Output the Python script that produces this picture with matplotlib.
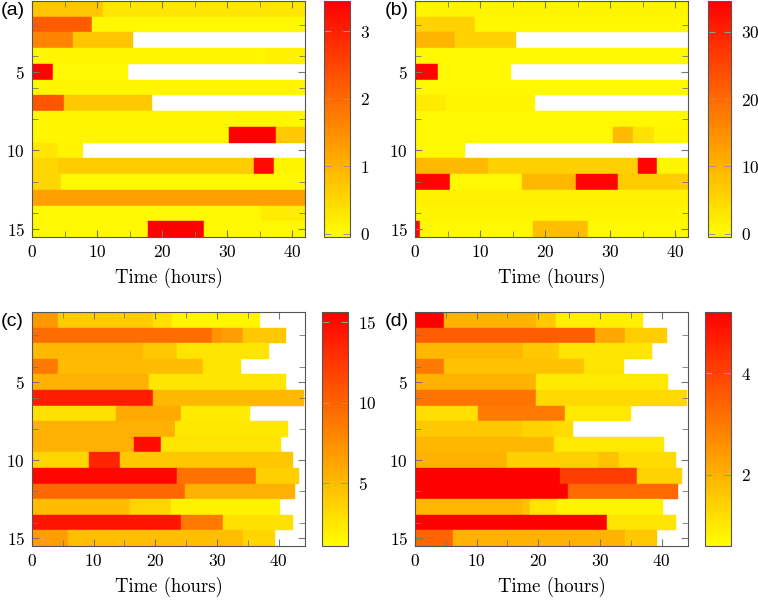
import matplotlib
matplotlib.use("Agg")
import matplotlib.pyplot as plt
from matplotlib.colors import Normalize
from matplotlib.cm import ScalarMappable
from matplotlib.ticker import MultipleLocator

plt.rcParams['font.family'] = 'serif'
plt.rcParams['font.serif'] = ['cmr10', 'DejaVu Serif']
plt.rcParams['mathtext.fontset'] = 'cm'
plt.rcParams['axes.formatter.use_mathtext'] = True

# (a) breakpoints (hours) and values per row, rows 1..15
a_edges = [[0, 10.9, 42], [0, 9.3, 42], [0, 6.3, 15.6], [0, 36, 42], [0, 3.2, 14.7],
           [0, 42], [0, 4.9, 18.4], [0, 42], [0, 30.3, 37.6, 42], [0, 4, 7.8],
           [0, 4, 34.2, 37.3, 42], [0, 4.4, 42], [0, 42], [0, 35.3, 42], [0, 17.9, 26.5, 42]]
a_vals = [[0.75, 0.3], [2.2, 0.05], [1.65, 0.75], [0.08, 0.15], [3.4, 0.05],
          [0.08], [2.3, 0.7], [0.08], [0.08, 3.45, 0.7], [0.3, 0.1],
          [0.5, 0.65, 3.3, 0.1], [0.5, 0.05], [1.25], [0.05, 0.2], [0.05, 3.45, 0.05]]

# (b)
b_edges = [[0, 42], [0, 9.3, 42], [0, 6.2, 15.6], [0, 42], [0, 3.5, 14.7],
           [0, 42], [0, 4.8, 18.4], [0, 42], [0, 30.5, 33.6, 36.8, 42], [0, 7.7],
           [0, 11.2, 34.3, 37.2, 42], [0, 5.4, 16.4, 24.8, 31.3, 42], [0, 42], [0, 42],
           [0, 0.8, 18.1, 26.6, 42]]
b_vals = [[1.0], [5.8, 0.5], [9.7, 5.8], [0.5], [34.0, 0.5],
          [0.5], [2.5, 0.8], [0.5], [0.5, 9.0, 3.5, 0.8], [0.5],
          [9.0, 6.0, 34.0, 0.8], [34.0, 0.5, 9.5, 34.0, 6.5], [1.5], [1.0],
          [34.0, 0.5, 8.5, 0.5]]

# (c)
c_edges = [[0, 4.2, 19.7, 22.7, 37.0], [0, 29.2, 30.8, 34.3, 41.2], [0, 18, 23.5, 38.5],
           [0, 4.3, 27.7, 33.9], [0, 19.0, 41.2], [0, 19.6, 44.2], [0, 13.6, 24.1, 35.3],
           [0, 23.2, 41.6], [0, 16.6, 21.0, 40.4], [0, 9.2, 14.2, 42.3],
           [0, 23.6, 36.4, 43.4], [0, 24.8, 42.6], [0, 15.9, 22.6, 40.2],
           [0, 24.2, 31.0, 42.4], [0, 5.8, 34.2, 39.4]]
c_vals = [[7.0, 4.0, 2.8, 1.6], [9.4, 7.2, 6.6, 4.2], [5.1, 4.2, 2.6],
          [8.8, 4.9, 2.6], [5.6, 2.5], [14.0, 5.1], [2.8, 5.9, 2.2],
          [5.6, 2.4], [5.6, 15.0, 2.6], [3.5, 13.5, 4.3],
          [15.2, 9.1, 3.8], [9.7, 5.6], [4.9, 3.5, 1.8],
          [14.5, 8.8, 2.8], [6.7, 4.8, 3.4]]

# (d)
d_edges = [[0, 4.7, 19.7, 22.8, 37.0], [0, 29.2, 34.1, 40.9], [0, 17.6, 23.3, 38.4],
           [0, 4.7, 27.4, 33.9], [0, 19.6, 41.1], [0, 19.6, 44.1], [0, 10.3, 24.4, 35.1],
           [0, 17.4, 22.4, 25.7], [0, 22.5, 40.4], [0, 14.9, 29.8, 33.1, 42.3],
           [0, 23.6, 36.0, 43.4], [0, 24.8, 42.6], [0, 17.3, 18.7, 23.1, 40.2],
           [0, 31.2, 42.3], [0, 6.2, 34.0, 39.3]]
d_vals = [[5.2, 2.0, 1.6, 0.9], [3.5, 2.2, 1.5], [1.9, 1.6, 1.1],
          [3.0, 1.7, 1.1], [2.0, 1.0], [3.1, 1.3], [1.2, 3.0, 1.0],
          [1.6, 1.4, 1.25], [1.9, 1.0], [2.0, 1.45, 1.7, 1.25],
          [5.2, 4.1, 1.4], [5.2, 3.3], [1.9, 1.7, 1.1, 0.8],
          [5.2, 1.1], [3.4, 2.0, 1.6]]

panels = [
    ("(a)", a_edges, a_vals, (-0.05, 3.45), [0, 1, 2, 3], 42.0),
    ("(b)", b_edges, b_vals, (-0.5, 34.6), [0, 10, 20, 30], 42.0),
    ("(c)", c_edges, c_vals, (1.05, 15.65), [5, 10, 15], 44.3),
    ("(d)", d_edges, d_vals, (0.6, 5.2), [2, 4], 44.3),
]

W, H = 758, 600
# pixel boxes: axes (left, top, right, bottom), colorbar (left, right), label x
ax_boxes = [(32, 1, 305, 237), (415, 1, 688, 237), (32, 312, 305, 546), (415, 312, 688, 546)]
cb_boxes = [(324, 350), (708, 731), (322, 348), (705, 731)]
lab_x = [1, 385, 1, 385]

cmap = plt.get_cmap('autumn_r')
spine_col = '#555555'

fig = plt.figure(figsize=(W / 100, H / 100), dpi=100)

for k, (lab, edges, vals, lims, cticks, xmax) in enumerate(panels):
    l, t, r, b = ax_boxes[k]
    ax = fig.add_axes([l / W, 1 - b / H, (r - l) / W, (b - t) / H])
    norm = Normalize(vmin=lims[0], vmax=lims[1])
    for i in range(len(edges)):
        e = edges[i]
        for j in range(len(vals[i])):
            c = cmap(norm(vals[i][j]))
            ax.barh(i + 1, e[j + 1] - e[j], left=e[j], height=1.0,
                    color=c, edgecolor=c, linewidth=0.3)
    ax.set_xlim(0, xmax)
    ax.set_ylim(15.5, 0.5)
    ax.set_xticks([0, 10, 20, 30, 40])
    ax.set_yticks([5, 10, 15])
    ax.xaxis.set_minor_locator(MultipleLocator(5))
    ax.yaxis.set_minor_locator(MultipleLocator(2))
    ax.tick_params(which='both', direction='in', top=True, right=True,
                   color='#777777', labelsize=12.5)
    ax.tick_params(which='major', length=5, pad=5)
    ax.tick_params(which='minor', length=4)
    for s in ax.spines.values():
        s.set_color(spine_col)
        s.set_linewidth(0.8)
    ax.set_xlabel("Time (hours)", fontsize=13.5, labelpad=6)
    fig.text(lab_x[k] / W, 1 - (t + 1) / H, lab, ha='left', va='top', fontsize=14,
             family=['Liberation Sans', 'DejaVu Sans'])

    cl, cr = cb_boxes[k]
    cax = fig.add_axes([cl / W, 1 - b / H, (cr - cl) / W, (b - t) / H])
    sm = ScalarMappable(norm=norm, cmap=cmap)
    cb = fig.colorbar(sm, cax=cax, ticks=cticks)
    cb.outline.set_edgecolor(spine_col)
    cb.outline.set_linewidth(0.8)
    cax.tick_params(direction='in', left=True, right=True, color='#999999',
                    length=5, labelsize=12.5, pad=7)

fig.savefig("out.png", dpi=100)
